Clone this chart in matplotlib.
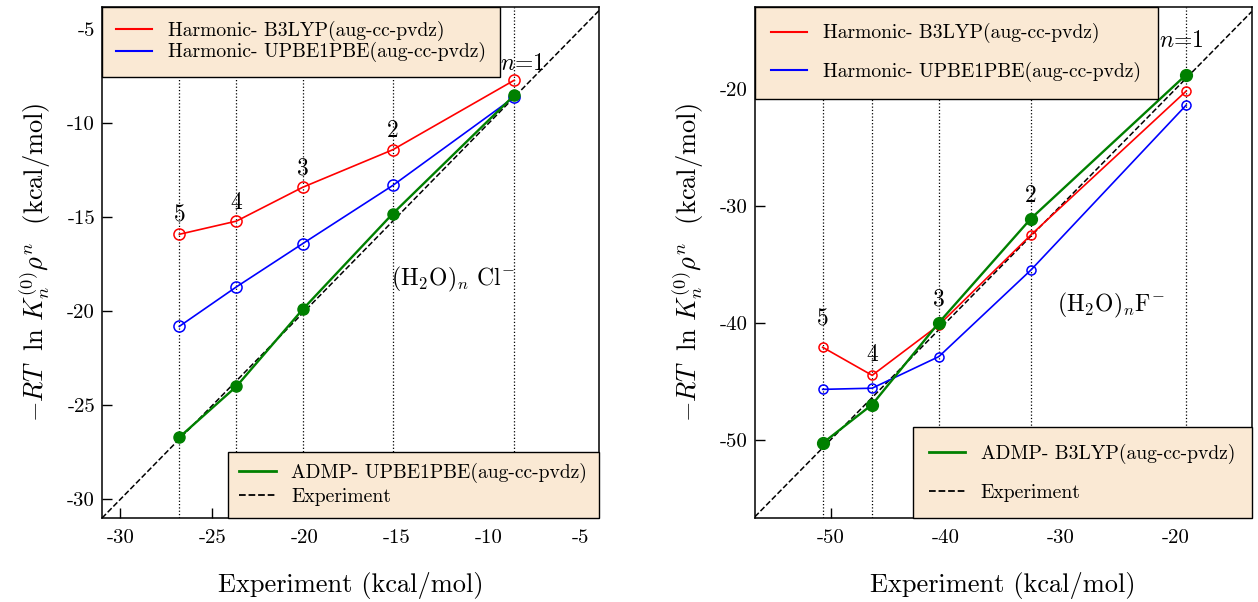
"""
Equilibrium constants of (H2O)n Cl- and (H2O)n F- clusters vs experiment
"""

import matplotlib
matplotlib.use('Agg')
import matplotlib.pyplot as plt
from matplotlib.lines import Line2D

plt.rcParams['font.family'] = ['cmr10', 'DejaVu Serif']
plt.rcParams['mathtext.fontset'] = 'cm'
plt.rcParams['axes.unicode_minus'] = False
plt.rcParams['axes.formatter.use_mathtext'] = False

# cluster size labels
n_labels = ['$n$=1', '2', '3', '4', '5']

# (H2O)n Cl-  (kcal/mol)
cl_exp = [-8.6, -15.2, -20.1, -23.7, -26.8]
cl_b3lyp = [-7.7, -11.4, -13.4, -15.2, -15.9]
cl_upbe = [-8.6, -13.3, -16.4, -18.7, -20.8]
cl_admp = [-8.5, -14.8, -19.9, -24.0, -26.7]

# (H2O)n F-  (kcal/mol)
f_exp = [-19.1, -32.6, -40.6, -46.4, -50.7]
f_b3lyp = [-20.2, -32.5, -40.2, -44.5, -42.1]
f_upbe = [-21.4, -35.5, -42.9, -45.6, -45.7]
f_admp = [-18.8, -31.1, -40.0, -47.0, -50.3]

legend_face = '#FAE9D4'
ylabel = r'$-RT\ \ \ln\, K_n^{(0)}\rho^n$  (kcal/mol)'

fig = plt.figure(figsize=(12.58, 6.02), dpi=100)
ax1 = fig.add_axes([0.0811, 0.1395, 0.395, 0.849])
ax2 = fig.add_axes([0.600, 0.1395, 0.395, 0.849])


def make_legend(ax, handles, labels, loc, borderpad, labelspacing):
    leg = ax.legend(handles, labels, loc=loc, borderaxespad=0, fontsize=14.1,
                    fancybox=False, facecolor=legend_face, edgecolor='black',
                    framealpha=1, handlelength=1.85, handletextpad=0.8,
                    borderpad=borderpad, labelspacing=labelspacing)
    leg.get_frame().set_linewidth(1.0)
    leg.set_zorder(6)
    return leg


def draw_panel(ax, exp, b3, upbe, admp, admp_label, ms_open, ms_fill,
               label_offsets, leg_pads):
    for xv in exp:
        ax.axvline(xv, color='black', linestyle=':', linewidth=0.9, zorder=1)
    ax.axline((0, 0), slope=1, color='black', linestyle='--', linewidth=1.1, zorder=2)
    ax.plot(exp, b3, color='red', linewidth=1.2, marker='o', ms=ms_open,
            mfc='none', mec='red', mew=1.1, zorder=3)
    ax.plot(exp, upbe, color='blue', linewidth=1.2, marker='o', ms=ms_open,
            mfc='none', mec='blue', mew=1.1, zorder=3)
    ax.plot(exp, admp, color='green', linewidth=1.7, marker='o', ms=ms_fill,
            mfc='green', mec='green', zorder=4)

    # cluster size labels above the highest point at each size
    for i, lab in enumerate(n_labels):
        top = max(b3[i], upbe[i], admp[i])
        ax.annotate(lab, xy=(exp[i], top), xytext=label_offsets[i],
                    textcoords='offset points', ha='center', va='center',
                    fontsize=17, zorder=7)

    h_red = Line2D([], [], color='red', linewidth=1.5)
    h_blue = Line2D([], [], color='blue', linewidth=1.5)
    h_green = Line2D([], [], color='green', linewidth=2)
    h_exp = Line2D([], [], color='black', linestyle='--', linewidth=1.3)

    leg1 = make_legend(ax, [h_red, h_blue],
                       ['Harmonic- B3LYP(aug-cc-pvdz)', 'Harmonic- UPBE1PBE(aug-cc-pvdz)'],
                       'upper left', *leg_pads[0])
    ax.add_artist(leg1)
    make_legend(ax, [h_green, h_exp], [admp_label, 'Experiment'],
                'lower right', *leg_pads[1])

    ax.tick_params(direction='in', length=7, width=1, labelsize=15,
                   top=False, right=False)
    ax.tick_params(axis='x', pad=8)
    ax.tick_params(axis='y', pad=5)
    for sp in ax.spines.values():
        sp.set_linewidth(1.1)
    ax.set_xlabel('Experiment (kcal/mol)', fontsize=19, labelpad=18)
    ax.set_ylabel(ylabel, fontsize=19, labelpad=10)


draw_panel(ax1, cl_exp, cl_b3lyp, cl_upbe, cl_admp, 'ADMP- UPBE1PBE(aug-cc-pvdz)',
           8, 8, [(6, 12), (0, 13.5), (0, 13.5), (0, 13), (0, 13.5)],
           [(0.72, 0.06), (0.6, 0.25)])
ax1.set_xlim(-31, -4)
ax1.set_ylim(-31, -3.8)
ax1.set_xticks([-30, -25, -20, -15, -10, -5])
ax1.set_yticks([-30, -25, -20, -15, -10, -5])
ax1.text(-15.3, -18.3, r'(H$_2$O)$_n$ Cl$^{-}$', fontsize=17, va='center', ha='left')

draw_panel(ax2, f_exp, f_b3lyp, f_upbe, f_admp, 'ADMP- B3LYP(aug-cc-pvdz)',
           6.5, 8.5, [(-3.5, 24), (0, 16), (0, 17), (0, 15), (0, 20)],
           [(0.84, 0.95), (0.84, 1.0)])
ax2.set_xlim(-56.6, -13.4)
ax2.set_ylim(-56.7, -13.0)
ax2.set_xticks([-50, -40, -30, -20])
ax2.set_yticks([-50, -40, -30, -20])
ax2.text(-30.3, -38.5, r'(H$_2$O)$_n$F$^{-}$', fontsize=17, va='center', ha='left')

plt.savefig('out.png', dpi=100)
plt.close()
